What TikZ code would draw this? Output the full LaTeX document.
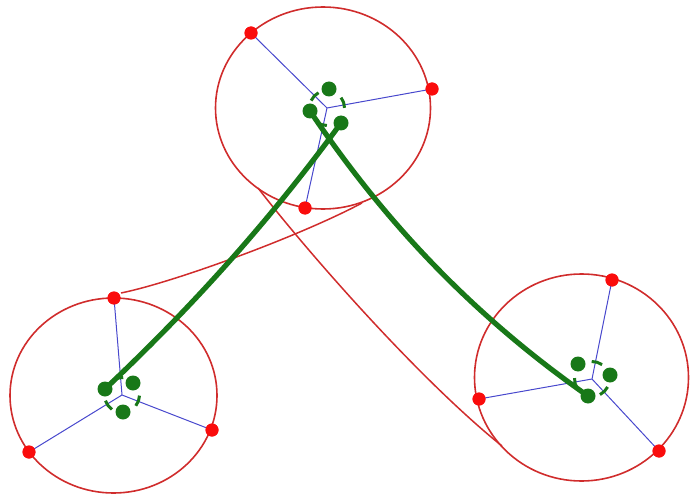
\documentclass[tikz,border=0pt]{standalone}
\definecolor{rimred}{RGB}{208,44,44}
\definecolor{dotred}{RGB}{250,12,12}
\definecolor{tgreen}{RGB}{24,120,24}
\definecolor{spokeblue}{RGB}{72,72,205}
\tikzset{
  rim/.style={draw=rimred, line width=1.6pt},
  belt/.style={draw=rimred, line width=1.5pt},
  spoke/.style={draw=spokeblue, line width=1pt},
  tendon/.style={draw=tgreen, line width=5.2pt},
  reddot/.style={circle, fill=dotred, inner sep=0pt, minimum size=13pt},
  greendot/.style={circle, fill=tgreen, inner sep=0pt, minimum size=15pt},
  hubarc/.style={draw=tgreen, line width=3pt},
}
\begin{document}
\begin{tikzpicture}[x=1pt,y=1pt,yscale=-1]
\useasboundingbox (0,0) rectangle (690,497);
% hub centres
\coordinate (T) at (327,108);
\coordinate (L) at (122,395);
\coordinate (R) at (592,379);
% rims
\draw[rim] (323,108) ellipse [x radius=107.5, y radius=101];
\draw[rim] (113.5,395.5) ellipse [x radius=103.5, y radius=97.5];
\draw[rim] (581.5,377.5) ellipse [x radius=107, y radius=103.5];
% belts
\coordinate (b1s) at (121,293);
\coordinate (b1e) at (362,203);
\coordinate (b2s) at (258,188);
\coordinate (b2e) at (502,446);
\draw[belt] (b1s) .. controls (175,282) and (300,236) .. (b1e);
\draw[belt] (b2s) .. controls (310,255) and (420,380) .. (b2e);
% red dots (nodes)
\node[reddot] (T1) at (251,33) {};
\node[reddot] (T2) at (432,89) {};
\node[reddot] (T3) at (305,208) {};
\node[reddot] (L1) at (114,298) {};
\node[reddot] (L2) at (212,430) {};
\node[reddot] (L3) at (29,452) {};
\node[reddot] (R1) at (612,280) {};
\node[reddot] (R2) at (479,399) {};
\node[reddot] (R3) at (659,451) {};
% spokes
\foreach \h/\d in {T/T1,T/T2,T/T3,L/L1,L/L2,L/L3,R/R1,R/R2,R/R3}
  \draw[spoke] (\h) -- (\d.center);
% green hub dots
\node[greendot] (Ta) at (329,89) {};
\node[greendot] (Tb) at (310,111) {};
\node[greendot] (Tc) at (341,123) {};
\node[greendot] (La) at (105,389) {};
\node[greendot] (Lb) at (133,383) {};
\node[greendot] (Lc) at (123,412) {};
\node[greendot] (Ra) at (578,364) {};
\node[greendot] (Rb) at (610,375) {};
\node[greendot] (Rc) at (588,396) {};
% hub arcs
\foreach \h/\a in {T/223,T/-18.5,T/108.5,L/143,L/256,L/20,R/287,R/45,R/165}
  \draw[hubarc] (\h) ++(\a-18:17.5) arc[start angle=\a-18, end angle=\a+18, radius=17.5];
% tendons
\draw[tendon] (La.center) .. controls (194,305) and (271,219) .. (Tc.center);
\draw[tendon] (Tb.center) .. controls (388,227) and (478,319) .. (Rc.center);
% red dots on top
\foreach \d in {T1,T2,T3,L1,L2,L3,R1,R2,R3}
  \fill[dotred] (\d) circle (6.5);
\end{tikzpicture}
\end{document}
